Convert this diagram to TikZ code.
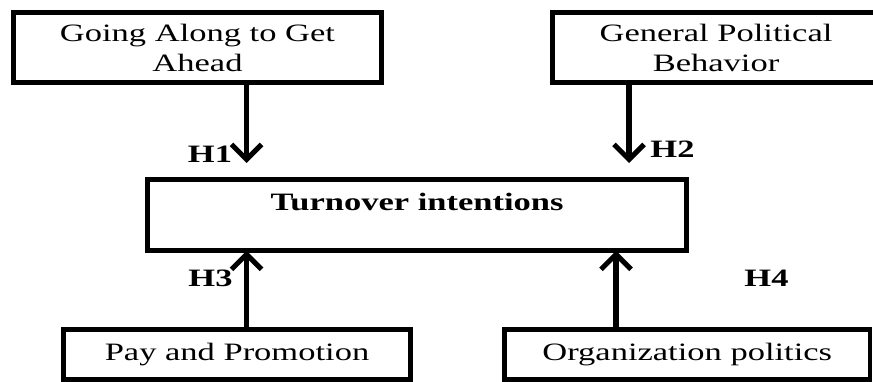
\documentclass[tikz,border=0pt]{standalone}
\usepackage{fontspec}
\setmainfont{Liberation Serif}
\usetikzlibrary{arrows.meta}
\newcommand{\sx}[1]{\scalebox{1.38}[1]{#1}}
\begin{document}
\begin{tikzpicture}[x=1pt,y=-1pt,
  box/.style={draw=black, line width=4.5pt, rectangle, inner sep=0pt,
    font=\fontsize{25}{30}\selectfont, align=center},
  hlab/.style={inner sep=0pt, font=\fontsize{25}{30}\selectfont\bfseries},
  arr/.style={line width=5.5pt, -{Straight Barb[length=15pt, width=30pt, line width=5pt]}}]
\useasboundingbox (0,0) rectangle (873,382);
\clip (0,0) rectangle (873,382);
% boxes
\node[box, minimum width=368pt, minimum height=70pt] (b1) at (197.5,47.5)
  {\sx{Going Along to Get}\\\sx{Ahead}};
\node[box, minimum width=332.5pt, minimum height=70pt] (b2) at (718.75,47.5) {};
\node[inner sep=0pt, font=\fontsize{25}{30}\selectfont, align=center] (b2t) at (716,48)
  {\sx{General Political}\\\sx{Behavior}};
\node[box, minimum width=539pt, minimum height=71pt] (ti) at (417,215) {};
\node[inner sep=0pt, font=\fontsize{25}{30}\selectfont\bfseries] (tit) at (417,202)
  {\sx{Turnover intentions}};
\node[box, minimum width=347pt, minimum height=50pt] (b3) at (237,354.5)
  {\sx{Pay and Promotion}};
\node[box, minimum width=365.5pt, minimum height=50pt] (b4) at (687.25,354.5)
  {\sx{Organization politics}};
% labels
\node[hlab] (h1) at (210,154) {\sx{H1}};
\node[hlab] (h2) at (672.5,149.5) {\sx{H2}};
\node[hlab] (h3) at (210.5,278.5) {\sx{H3}};
\node[hlab] (h4) at (766.5,278.5) {\sx{H4}};
% arrows
\coordinate (t1) at (246.5,163);
\coordinate (t2) at (629,163);
\coordinate (c3) at (246.5,0);
\coordinate (c4) at (616,0);
\draw[arr] (b1.south -| t1) -- (t1);
\draw[arr] (b2.south -| t2) -- (t2);
\draw[arr] (b3.north -| c3) -- ([yshift=2pt]ti.south -| c3);
\draw[arr] (b4.north -| c4) -- ([yshift=2pt]ti.south -| c4);
\end{tikzpicture}
\end{document}
